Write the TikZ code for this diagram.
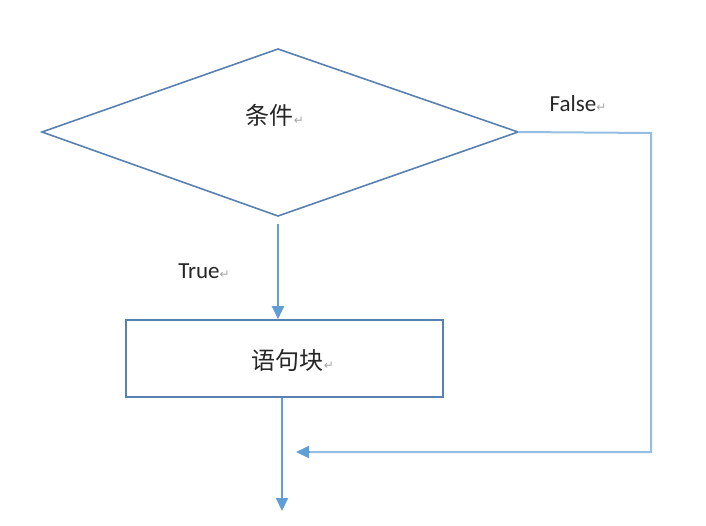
\documentclass[tikz,border=0pt]{standalone}
\usepackage{fontspec}
\setmainfont{Carlito}
\newfontfamily\cjk{Noto Sans CJK SC}
\newfontfamily\symf{DejaVu Sans}
\usetikzlibrary{arrows.meta,shapes.geometric}
\definecolor{shapeblue}{RGB}{88,128,176}
\definecolor{arrowblue}{RGB}{96,158,214}
\definecolor{falseblue}{RGB}{150,190,228}
\newcommand{\retmark}{{\symf\fontsize{12}{12}\selectfont\color{gray!70}↵}}
\tikzset{
  shapeline/.style={draw=shapeblue, line width=1.6pt},
  flowarrow/.style={draw=arrowblue, line width=2pt, -{Triangle[length=13pt,width=12pt]}},
  lbl/.style={inner sep=0pt, font=\fontsize{23}{25}\selectfont, text=black!85},
  cjklbl/.style={inner sep=0pt, font=\cjk\fontsize{24}{26}\selectfont, text=black!85}
}
\begin{document}
\begin{tikzpicture}[x=1pt,y=-1pt]
\useasboundingbox (0,0) rectangle (706,525);
% diamond
\coordinate (dl) at (42,132);
\coordinate (dt) at (278,49);
\coordinate (dr) at (518,132);
\coordinate (db) at (278,216);
\draw[shapeline] (dl) -- (dt) -- (dr) -- (db) -- cycle;
\node[cjklbl] (cond) at (275,115) {条件\retmark};
% block
\node[shapeline, minimum width=317pt, minimum height=77pt, inner sep=0pt] (blk) at (284.5,358.5) {};
\node[cjklbl] (blktxt) at (293,360) {语句块\retmark};
% True arrow
\coordinate (ts) at (278,224);
\draw[flowarrow] (ts) -- (ts |- blk.north);
\node[lbl] (truelbl) at (204,271) {True\retmark};
% False path
\coordinate (f1) at (651,133);
\coordinate (f2) at (651,452);
\coordinate (f3) at (296,452);
\draw[draw=falseblue, line width=2pt] (dr) -- (f1) -- (f2) -- (f3 -| 310,0);
\draw[flowarrow] (310,452) -- (f3);
\node[lbl] (falselbl) at (578,104) {False\retmark};
% bottom arrow
\coordinate (bs) at (282,398);
\coordinate (be) at (282,511);
\draw[flowarrow] (bs) -- (be);
\end{tikzpicture}
\end{document}
